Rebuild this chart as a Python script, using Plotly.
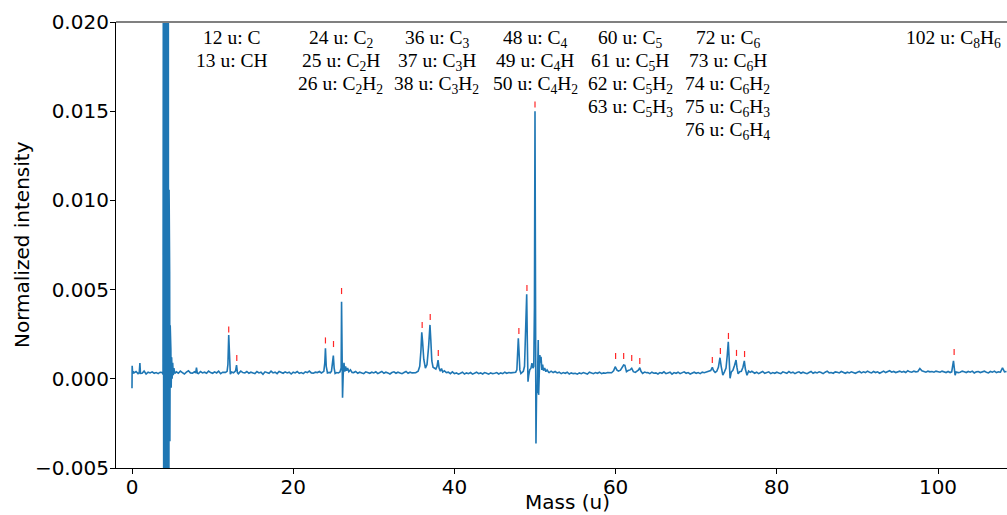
import numpy as np
import plotly.graph_objects as go

# ---------------- data (intensities in units of 1e-4) ----------------
# Baseline samples every 0.25 u from 0 to 108.5 u (435 samples)
baseline_mass = np.linspace(0.0, 108.5, 435)
baseline_int_e4 = [
    3.7, 3.3, 4.1, 2.9, 3.5, 3.1, 4.3, 2.7, 3.7, 3.3, 3.9, 3.1, 3.5, 2.9, 3.7, 4.1, 3.5, 3.5, 3.5, 3.5,
    3.3, 2.9, 3.9, 3.1, 4.3, 3.5, 2.7, 3.7, 4.5, 3.3, 3.1, 3.9, 3.5, 2.9, 4.1, 3.3, 3.7, 3.1, 4.3, 3.5,
    3.1, 3.9, 3.3, 4.3, 2.9, 3.7, 3.5, 4.1, 3.1, 3.5, 3.7, 3.3, 3.9, 2.9, 4.3, 3.5, 3.3, 4.1, 3.1, 3.7,
    3.5, 2.9, 4.1, 3.3, 3.7, 2.5, 3.9, 3.5, 3.1, 4.3, 3.3, 3.7, 2.9, 4.1, 3.5, 3.1, 3.9, 3.3, 3.7, 2.7,
    3.7, 3.3, 4.1, 3.1, 3.5, 2.9, 3.9, 3.5, 4.3, 3.3, 3.1, 3.7, 3.5, 4.1, 3.3, 3.7, 3.5, 3.5, 3.5, 3.5,
    3.5, 3.5, 3.5, 3.5, 3.5, 3.5, 3.5, 3.5, 3.5, 3.5, 3.5, 4.1, 3.1, 3.7, 3.3, 2.9, 3.9, 3.5, 3.1, 3.7,
    3.3, 3.9, 2.9, 3.5, 4.1, 3.1, 3.7, 3.3, 2.7, 3.5, 3.9, 3.1, 3.7, 3.3, 2.9, 3.5, 4.1, 3.1, 3.7, 3.3,
    3.5, 3.5, 3.5, 3.5, 3.5, 3.5, 3.5, 3.5, 3.5, 3.5, 3.5, 3.5, 3.5, 3.5, 3.5, 3.5, 3.1, 3.7, 2.9, 3.9,
    2.9, 3.3, 2.6, 3.1, 3.7, 2.7, 3.3, 2.9, 3.5, 2.6, 3.1, 3.7, 2.9, 3.3, 2.7, 3.5, 3.1, 2.6, 3.3, 2.9,
    3.1, 3.5, 2.7, 3.3, 2.9, 3.7, 3.1, 3.5, 3.3, 3.5, 3.5, 3.5, 3.5, 3.5, 3.5, 3.5, 3.5, 3.5, 3.5, 3.5,
    3.5, 3.5, 3.5, 3.5, 3.5, 3.5, 3.5, 3.5, 4.3, 3.5, 4.1, 3.3, 3.7, 2.9, 3.5, 3.1, 3.7, 2.7, 3.3, 2.9,
    3.1, 2.6, 3.3, 2.9, 3.5, 3.1, 2.7, 3.7, 3.3, 2.9, 3.5, 3.1, 3.7, 2.9, 3.3, 3.1, 3.5, 3.3, 3.5, 3.5,
    3.5, 3.5, 3.5, 3.5, 3.5, 3.5, 3.5, 3.5, 3.5, 3.5, 3.5, 3.5, 3.5, 3.5, 3.5, 3.5, 3.5, 2.9, 3.7, 3.1,
    3.3, 2.7, 3.5, 3.1, 3.9, 2.9, 3.3, 3.7, 2.6, 3.5, 3.1, 3.7, 2.9, 3.3, 3.9, 3.1, 3.5, 2.7, 3.3, 3.7,
    3.1, 3.5, 2.9, 3.7, 3.5, 3.5, 3.5, 3.5, 3.5, 3.5, 3.5, 3.5, 3.5, 3.5, 3.5, 3.5, 3.5, 3.5, 3.5, 3.5,
    3.5, 3.5, 3.5, 3.5, 3.5, 3.5, 3.5, 3.5, 3.5, 3.1, 3.7, 2.9, 3.5, 4.1, 3.1, 3.3, 3.9, 2.9, 3.5, 3.1,
    3.7, 3.3, 2.9, 3.9, 3.5, 3.1, 4.1, 3.3, 3.7, 2.9, 3.5, 3.9, 3.1, 3.7, 3.3, 2.9, 3.5, 4.1, 3.1, 3.7,
    3.3, 3.9, 3.5, 2.9, 3.7, 4.3, 3.3, 3.5, 3.1, 3.9, 3.7, 3.3, 4.1, 3.5, 3.1, 3.7, 3.3, 3.9, 3.5, 3.1,
    3.7, 4.1, 3.3, 3.9, 3.5, 4.3, 3.7, 3.3, 4.1, 3.5, 3.9, 3.1, 3.7, 4.3, 3.5, 3.9, 4.5, 3.7, 4.1, 3.5,
    3.9, 4.3, 3.7, 4.1, 3.5, 4.5, 3.9, 3.7, 4.3, 3.9, 4.1, 5.8, 4.5, 4.1, 3.7, 4.3, 3.9, 4.1, 3.7, 4.3,
    4.1, 3.7, 4.3, 3.9, 3.5, 4.1, 3.5, 3.5, 3.5, 3.5, 3.5, 3.7, 4.3, 3.9, 3.5, 4.1, 3.7, 4.3, 3.3, 3.9,
    4.1, 3.5, 3.9, 4.3, 3.7, 3.3, 4.1, 3.7, 4.3, 3.5, 3.9, 3.7, 6.2, 3.9, 4.1,
]

# Detailed regions (mass in u, intensity in 1e-4); they replace the baseline over their span
start_mass = [0.0, 0.02, 0.08, 0.15]
start_int_e4 = [-5.3, 7.3, 3.0, 4.2]

spike1_mass = [0.9, 0.98, 1.05]
spike1_int_e4 = [3.4, 8.8, 3.0]

big_mass = [3.75, 3.85, 3.90, 3.95, 4.00, 4.05, 4.10, 4.15, 4.20, 4.25, 4.30, 4.35, 4.40, 4.45,
            4.50, 4.55, 4.60, 4.63, 4.67, 4.70, 4.74, 4.78, 4.82, 4.86, 4.92, 4.98, 5.05, 5.12,
            5.20, 5.30]
big_int_e4 = [3.6, 2.5, 300, -300, 300, -300, 300, -300, 300, -300, 300, -300, 300, -300,
              300, -300, 106, -45, 60, -35, 30, -15, 17, -5, 12, 0, 9, 2, 6, 3]

spike8_mass = [7.9, 8.0, 8.1]
spike8_int_e4 = [3.3, 6.2, 3.2]

c12_mass = [11.6, 11.8, 11.9, 12.0, 12.1, 12.2, 12.35, 12.6, 12.85, 12.97, 13.08, 13.2, 13.35]
c12_int_e4 = [3.6, 4.2, 8.0, 24.5, 8.5, 2.6, 3.8, 3.4, 4.5, 7.7, 3.5, 2.8, 3.6]

c24_mass = [23.6, 23.8, 23.92, 24.0, 24.1, 24.25, 24.45, 24.6, 24.75, 24.88, 24.98, 25.08, 25.2,
            25.4, 25.6, 25.8, 25.95, 26.0, 26.06, 26.12, 26.2, 26.3, 26.4, 26.5, 26.62, 26.75,
            26.9, 27.1, 27.3]
c24_int_e4 = [3.5, 4.2, 9.0, 17.1, 7.0, 3.3, 3.6, 3.4, 4.3, 8.0, 13.0, 6.0, 3.0,
              3.5, 3.3, 3.8, 6.0, 43.2, 15.0, -10.6, 2.0, 9.0, 4.0, 7.0, 4.5, 6.0,
              4.0, 5.0, 3.6]

c36_mass = [35.2, 35.5, 35.7, 35.85, 35.95, 36.05, 36.2, 36.4, 36.6, 36.8, 36.97, 37.07, 37.2,
            37.35, 37.5, 37.7, 37.85, 37.97, 38.1, 38.25, 38.4, 38.55, 38.75, 39.0]
c36_int_e4 = [3.4, 4.2, 7.0, 16.0, 26.1, 21.0, 11.0, 6.0, 8.0, 18.0, 30.2, 22.0, 10.0,
              6.5, 6.2, 5.5, 7.0, 10.5, 6.0, 4.2, 5.8, 3.8, 4.5, 3.5]

c48_mass = [47.4, 47.6, 47.75, 47.85, 47.93, 48.02, 48.12, 48.25, 48.4, 48.55, 48.7, 48.85,
            48.97, 49.05, 49.13, 49.22, 49.35, 49.5, 49.62, 49.75, 49.85, 49.93, 50.0, 50.06,
            50.12, 50.2, 50.28, 50.36, 50.4, 50.45, 50.52, 50.6, 50.68, 50.75, 50.85, 50.95,
            51.05, 51.2, 51.35, 51.5, 51.7]
c48_int_e4 = [3.3, 3.7, 5.0, 12.0, 22.7, 15.0, 5.0, 3.0, 3.6, 4.2, 7.0, 24.0,
              47.4, 20.0, -1.6, 2.0, 5.0, 6.0, 8.7, 6.0, 7.0, 40.0, 150.0, 50.0,
              -36.2, -5.0, -8.0, 12.0, 21.8, -9.0, 4.0, 13.3, 9.0, 12.4, 5.0, 8.0,
              4.5, 6.0, 4.0, 5.0, 3.6]

c60_mass = [59.5, 59.75, 59.95, 60.15, 60.35, 60.6, 60.8, 61.0, 61.15, 61.35, 61.55, 61.8,
            62.0, 62.2, 62.45, 62.65, 62.85, 63.0, 63.15, 63.35, 63.6, 63.85]
c60_int_e4 = [3.4, 4.5, 6.8, 5.0, 4.3, 4.8, 6.2, 7.7, 7.5, 4.0, 4.6, 5.0,
              5.9, 4.0, 3.6, 4.4, 5.0, 6.2, 4.2, 3.0, 3.8, 3.4]

c72_mass = [71.0, 71.3, 71.55, 71.8, 72.0, 72.15, 72.35, 72.55, 72.75, 72.95, 73.1, 73.3,
            73.5, 73.7, 73.85, 73.98, 74.08, 74.2, 74.35, 74.55, 74.75, 74.94, 75.05, 75.2,
            75.4, 75.6, 75.8, 75.97, 76.1, 76.3, 76.5, 76.7, 76.9, 77.1]
c72_int_e4 = [3.4, 3.8, 3.9, 4.6, 6.4, 4.6, 3.6, 4.2, 6.4, 11.8, 7.0, 2.0,
              3.9, 6.0, 13.0, 20.8, 12.0, 0.3, 3.8, 4.8, 7.5, 10.5, 6.5, 2.8,
              4.0, 4.2, 6.5, 10.0, 5.5, 2.0, 4.3, 3.6, 4.2, 3.5]

c102_mass = [101.5, 101.7, 101.82, 101.92, 102.02, 102.12, 102.25, 102.5]
c102_int_e4 = [3.5, 3.9, 6.5, 10.1, 6.0, 2.0, 3.8, 3.5]

# Red tick markers above assigned peaks
marker_mass = [12, 13, 24, 25, 26, 36, 37, 38, 48, 49, 50, 60, 61, 62, 63, 72, 73, 74, 75, 76, 102]
marker_int_e4 = [27.6, 11.7, 21.5, 19.5, 49.2, 30.2, 34.6, 14.5, 26.8, 50.9, 153.8,
                 12.8, 12.8, 11.7, 10.0, 10.5, 15.6, 24.0, 14.5, 13.9, 15.0]

# Peak-assignment labels: centre mass of each group and its lines
label_mass = [12.4, 25.9, 37.8, 50.0, 61.8, 73.9, 101.9]
label_lines = [
    ["12 u: C", "13 u: CH"],
    ["24 u: C<sub>2</sub>", "25 u: C<sub>2</sub>H", "26 u: C<sub>2</sub>H<sub>2</sub>"],
    ["36 u: C<sub>3</sub>", "37 u: C<sub>3</sub>H", "38 u: C<sub>3</sub>H<sub>2</sub>"],
    ["48 u: C<sub>4</sub>", "49 u: C<sub>4</sub>H", "50 u: C<sub>4</sub>H<sub>2</sub>"],
    ["60 u: C<sub>5</sub>", "61 u: C<sub>5</sub>H", "62 u: C<sub>5</sub>H<sub>2</sub>",
     "63 u: C<sub>5</sub>H<sub>3</sub>"],
    ["72 u: C<sub>6</sub>", "73 u: C<sub>6</sub>H", "74 u: C<sub>6</sub>H<sub>2</sub>",
     "75 u: C<sub>6</sub>H<sub>3</sub>", "76 u: C<sub>6</sub>H<sub>4</sub>"],
    ["102 u: C<sub>8</sub>H<sub>6</sub>"],
]
x_title = "Mass (u)"
y_title = "Normalized intensity"

# ---------------- assemble spectrum ----------------
E4 = 1e-4
regions = [
    (start_mass, start_int_e4), (spike1_mass, spike1_int_e4), (big_mass, big_int_e4),
    (spike8_mass, spike8_int_e4), (c12_mass, c12_int_e4), (c24_mass, c24_int_e4),
    (c36_mass, c36_int_e4), (c48_mass, c48_int_e4), (c60_mass, c60_int_e4),
    (c72_mass, c72_int_e4), (c102_mass, c102_int_e4),
]
points = []
spans = []
for ms, vs in regions:
    spans.append((min(ms), max(ms)))
    points += [(m, v * E4) for m, v in zip(ms, vs)]
for m, v in zip(baseline_mass, baseline_int_e4):
    if not any(a <= m <= b for a, b in spans):
        points.append((float(m), v * E4))
points.sort(key=lambda p: p[0])
spec_x = [p[0] for p in points]
spec_y = [p[1] for p in points]

HALF = 0.00017
mk_x, mk_y = [], []
for m, h in zip(marker_mass, marker_int_e4):
    mk_x += [m, m, None]
    mk_y += [h * E4 - HALF, h * E4 + HALF, None]

# ---------------- figure ----------------
fig = go.Figure()
fig.add_trace(go.Scatter(x=spec_x, y=spec_y, mode="lines",
                         line=dict(color="#1f77b4", width=1.6), showlegend=False))
fig.add_trace(go.Scatter(x=mk_x, y=mk_y, mode="lines",
                         line=dict(color="rgba(255,0,0,0.85)", width=1.2), showlegend=False))

LINE_STEP = 23
for m, lines in zip(label_mass, label_lines):
    for i, t in enumerate(lines):
        fig.add_annotation(x=m, xref="x", y=1, yref="paper", yanchor="top",
                           yshift=-3 - i * LINE_STEP,
                           text=t, showarrow=False, align="center",
                           font=dict(family="Liberation Serif", size=19.5, color="black"))

axis_font = dict(family="DejaVu Sans", size=20, color="black")
# axis titles as annotations for exact placement
fig.add_annotation(x=54.0, xref="x", y=0, yref="paper", yanchor="middle", yshift=-34,
                   text=x_title, showarrow=False, font=axis_font)
fig.add_annotation(x=0, xref="paper", y=0.5, yref="paper", xanchor="center", xshift=-94,
                   text=y_title, textangle=-90, showarrow=False, font=axis_font)

fig.add_shape(type="line", xref="paper", yref="paper", x0=0, x1=1, y0=1, y1=1,
              line=dict(color="#808080", width=2))

fig.update_xaxes(range=[-1.985, 108.56], tick0=0, dtick=20, showgrid=False, zeroline=False,
                 showline=True, linecolor="black", linewidth=1.2, automargin=False,
                 ticks="outside", ticklen=5, tickwidth=1, tickcolor="black",
                 ticklabelstandoff=-4, tickfont=axis_font)
fig.update_yaxes(range=[-0.005, 0.020], tick0=0, dtick=0.005, tickformat=".3f",
                 showgrid=False, zeroline=False, automargin=False,
                 showline=True, linecolor="black", linewidth=1.2,
                 ticks="outside", ticklen=5, tickwidth=1, tickcolor="black",
                 ticklabelstandoff=-3, tickfont=axis_font)
fig.update_layout(width=1007, height=515, margin=dict(l=116, r=0, t=22, b=47),
                  plot_bgcolor="white", paper_bgcolor="white")

fig.write_html("out.html")
